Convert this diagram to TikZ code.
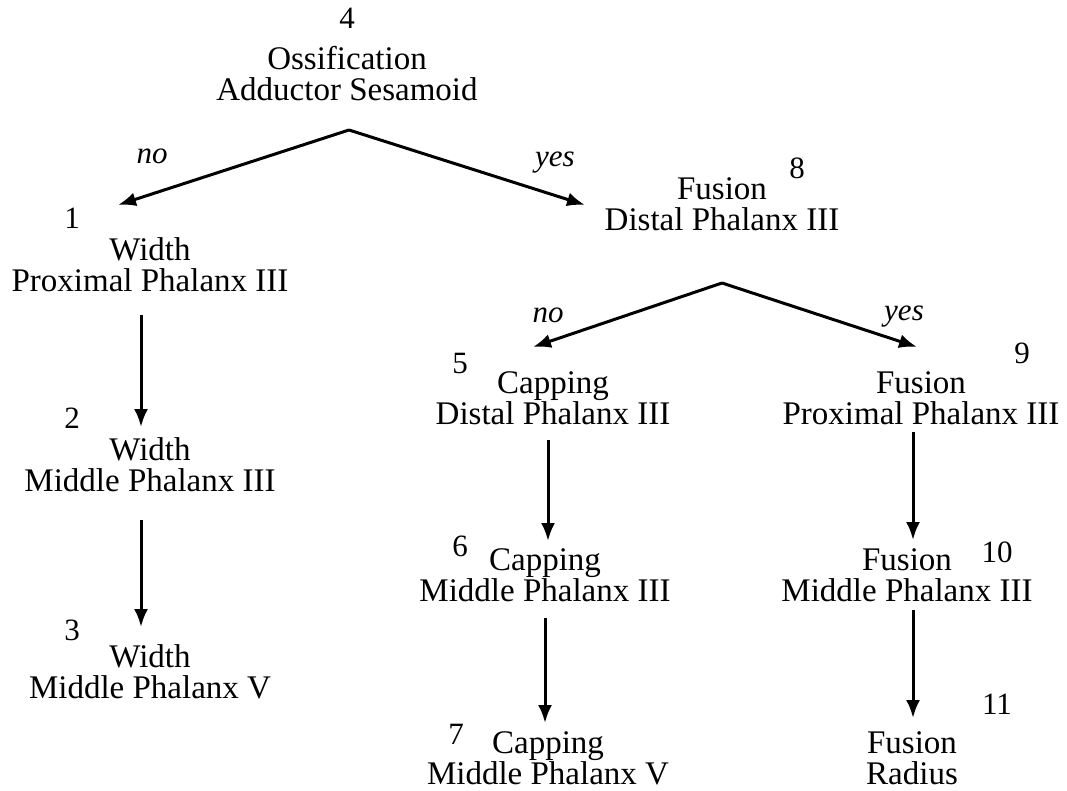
\documentclass[tikz,border=0pt]{standalone}
\usepackage{fontspec}
\setmainfont{Liberation Serif}
\usetikzlibrary{arrows.meta}
\begin{document}
\begin{tikzpicture}[x=1pt,y=-1pt,
  lbl/.style={align=center,anchor=base,inner sep=0pt,font=\fontsize{33}{31}\selectfont},
  num/.style={anchor=base,inner sep=0pt,font=\fontsize{31}{31}\selectfont},
  ans/.style={anchor=base,inner sep=0pt,font=\fontsize{31}{31}\selectfont\itshape},
  arr/.style={line width=3pt,-{Latex[length=18pt,width=14pt]}}]
\useasboundingbox (0,0) rectangle (1067,791);
% numbers
\node[num] (k4) at (347,29) {4};
\node[num] (k1) at (72,229) {1};
\node[num] (k2) at (72,428) {2};
\node[num] (k3) at (72,640) {3};
\node[num] (k5) at (460,373) {5};
\node[num] (k6) at (460,556) {6};
\node[num] (k7) at (456,744) {7};
\node[num] (k8) at (797,179) {8};
\node[num] (k9) at (1022,363) {9};
\node[num] (k10) at (997,562) {10};
\node[num] (k11) at (997,714) {11};
% labels
\node[lbl] (n4) at (347,101) {Ossification\\Adductor Sesamoid};
\node[lbl] (n1) at (150,291) {Width\\Proximal Phalanx III};
\node[lbl] (n2) at (150,491) {Width\\Middle Phalanx III};
\node[lbl] (n3) at (150,698) {Width\\Middle Phalanx V};
\node[lbl] (n8) at (722,231) {Fusion\\Distal Phalanx III};
\node[lbl] (n5) at (553,424) {Capping\\Distal Phalanx III};
\node[lbl] (n6) at (545,601) {Capping\\Middle Phalanx III};
\node[lbl] (n7) at (548,784) {Capping\\Middle Phalanx V};
\node[lbl] (n9) at (921,424) {Fusion\\Proximal Phalanx III};
\node[lbl] (n10) at (907,601) {Fusion\\Middle Phalanx III};
\node[lbl] (n11) at (912,784) {Fusion\\Radius};
% answers
\node[ans] (no1) at (152,164) {no};
\node[ans] (yes1) at (555,167) {yes};
\node[ans] (no2) at (548,322) {no};
\node[ans] (yes2) at (904,320) {yes};
% connector points
\coordinate (a1) at (349,130);
\coordinate (t1) at (118,205);
\coordinate (t8) at (585,205);
\coordinate (a2) at (722,283);
\coordinate (t5) at (533,347);
\coordinate (t9) at (917,347);
\coordinate (s1) at (141,315); \coordinate (t2) at (141,427);
\coordinate (s2) at (141,520); \coordinate (t3) at (141,627);
\coordinate (s5) at (548,440); \coordinate (t6) at (548,541);
\coordinate (s6) at (545,618); \coordinate (t7) at (545,723);
\coordinate (s9) at (913,432); \coordinate (t10) at (913,540);
\coordinate (s10) at (913,610); \coordinate (t11) at (913,718);
\draw[arr] (a1) -- (t1);
\draw[arr] (a1) -- (t8);
\draw[arr] (a2) -- (t5);
\draw[arr] (a2) -- (t9);
\draw[arr] (s1) -- (t2);
\draw[arr] (s2) -- (t3);
\draw[arr] (s5) -- (t6);
\draw[arr] (s6) -- (t7);
\draw[arr] (s9) -- (t10);
\draw[arr] (s10) -- (t11);
\end{tikzpicture}
\end{document}
